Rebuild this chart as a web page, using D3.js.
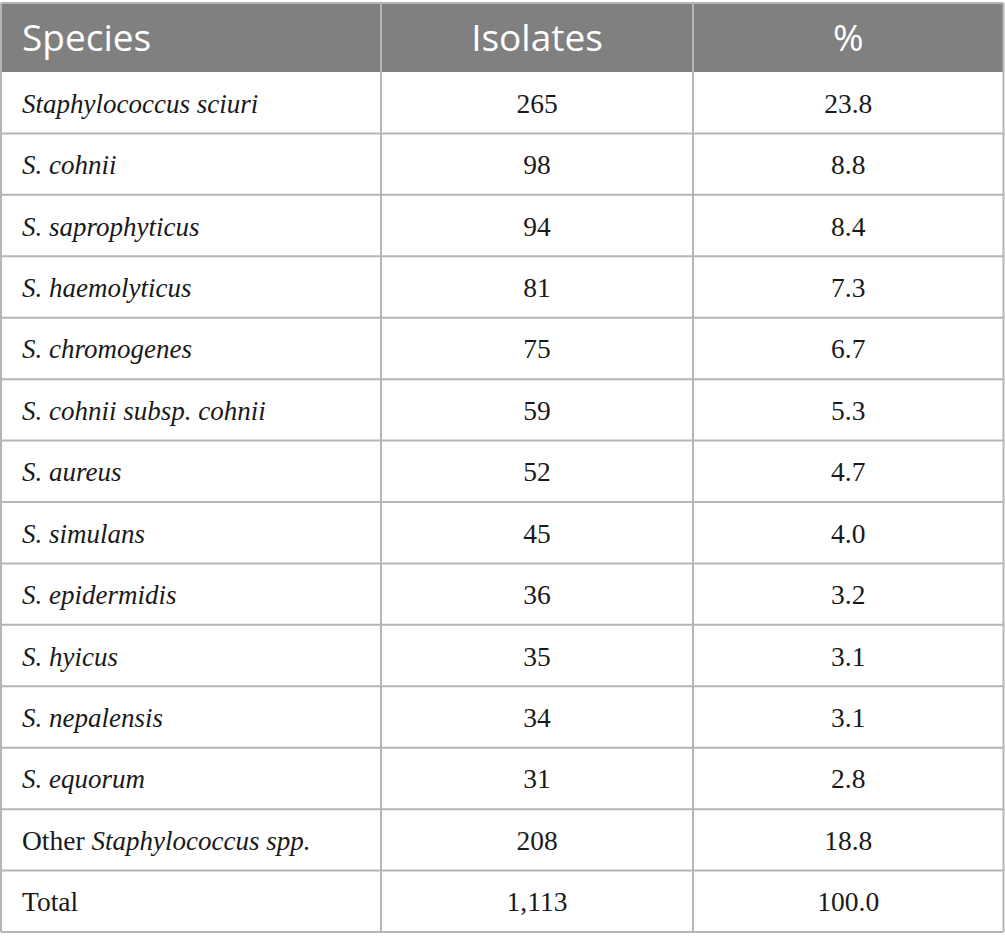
<!DOCTYPE html>
<meta charset="utf-8">
<style>
  body { margin: 0; background: #fff; }
  .head text { font-family: "Open Sans", sans-serif; font-size: 37px; fill: #fff; }
  .cell { font-family: "Liberation Serif", serif; font-size: 27.5px; fill: #1a1a1a; }
  .cell .it { font-size: 27px; font-style: italic; }
  .grid { stroke: #b5b5b5; stroke-width: 2px; }
</style>
<svg width="1005" height="947"></svg>
<script src="https://d3js.org/d3.v7.min.js"></script>
<script>

var headers = ["Species", "Isolates", "%"];

// species name parts: [plain prefix, italic part]
var species = [
  ["", "Staphylococcus sciuri"],
  ["", "S. cohnii"],
  ["", "S. saprophyticus"],
  ["", "S. haemolyticus"],
  ["", "S. chromogenes"],
  ["", "S. cohnii subsp. cohnii"],
  ["", "S. aureus"],
  ["", "S. simulans"],
  ["", "S. epidermidis"],
  ["", "S. hyicus"],
  ["", "S. nepalensis"],
  ["", "S. equorum"],
  ["Other ", "Staphylococcus spp."],
  ["Total", ""]
];
var isolates = ["265", "98", "94", "81", "75", "59", "52", "45", "36", "35", "34", "31", "208", "1,113"];
var percent = ["23.8", "8.8", "8.4", "7.3", "6.7", "5.3", "4.7", "4.0", "3.2", "3.1", "3.1", "2.8", "18.8", "100.0"];

var svg = d3.select("svg");

var top0 = 3, headH = 69, bottom = 932;
var colEdges = [1, 381, 693, 1003.5];

var y = d3.scaleBand()
    .domain(d3.range(species.length))
    .range([top0 + headH, bottom])
    .paddingInner(0).paddingOuter(0);

// header
var head = svg.append("g").attr("class", "head");
head.append("rect")
    .attr("x", colEdges[0]).attr("y", top0)
    .attr("width", colEdges[3] - colEdges[0]).attr("height", headH)
    .attr("fill", "#808080");

head.selectAll("text")
    .data(headers)
  .enter().append("text")
    .attr("x", function(d, i) { return i == 0 ? 22 : (colEdges[i] + colEdges[i + 1]) / 2; })
    .attr("y", top0 + headH / 2 + 13)
    .attr("text-anchor", function(d, i) { return i == 0 ? "start" : "middle"; })
    .text(function(d) { return d; });

// body rows
var rows = svg.append("g").selectAll("g")
    .data(d3.range(species.length))
  .enter().append("g")
    .attr("transform", function(i) { return "translate(0," + (y(i) + y.bandwidth() / 2 + 10) + ")"; });

var label = rows.append("text")
    .attr("class", "cell")
    .attr("x", 22);
label.append("tspan").text(function(i) { return species[i][0]; });
label.append("tspan").attr("class", "it").text(function(i) { return species[i][1]; });

rows.append("text")
    .attr("class", "cell")
    .attr("x", (colEdges[1] + colEdges[2]) / 2)
    .attr("text-anchor", "middle")
    .text(function(i) { return isolates[i]; });

rows.append("text")
    .attr("class", "cell")
    .attr("x", (colEdges[2] + colEdges[3]) / 2)
    .attr("text-anchor", "middle")
    .text(function(i) { return percent[i]; });

// grid lines
var grid = svg.append("g").attr("class", "grid");
grid.selectAll(".h")
    .data(d3.range(1, species.length + 1))
  .enter().append("line")
    .attr("x1", colEdges[0]).attr("x2", colEdges[3])
    .attr("y1", function(i) { return i == species.length ? bottom : y(i); })
    .attr("y2", function(i) { return i == species.length ? bottom : y(i); });

grid.selectAll(".v")
    .data(colEdges)
  .enter().append("line")
    .attr("x1", function(d) { return d; }).attr("x2", function(d) { return d; })
    .attr("y1", top0)
    .attr("y2", bottom);

grid.append("line")
    .attr("x1", colEdges[0]).attr("x2", colEdges[3])
    .attr("y1", top0).attr("y2", top0);

</script>
